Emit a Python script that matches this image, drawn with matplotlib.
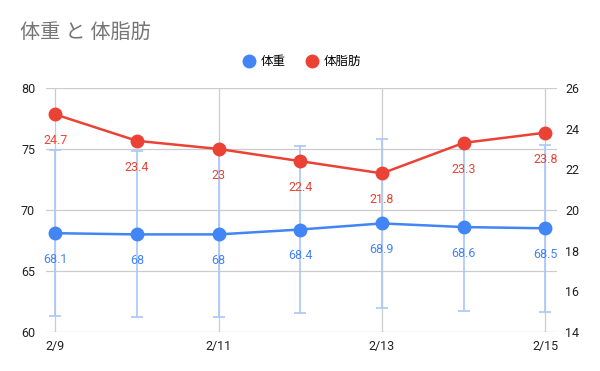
import numpy as np
import matplotlib
matplotlib.use("Agg")
import matplotlib.pyplot as plt
from matplotlib.lines import Line2D

plt.rcParams['font.family'] = ['Roboto', 'Noto Sans CJK JP', 'DejaVu Sans']

days = ['2/9', '2/10', '2/11', '2/12', '2/13', '2/14', '2/15']
weight = [68.1, 68.0, 68.0, 68.4, 68.9, 68.6, 68.5]
bodyfat = [24.7, 23.4, 23.0, 22.4, 21.8, 23.3, 23.8]
weight_label = ['68.1', '68', '68', '68.4', '68.9', '68.6', '68.5']
fat_label = ['24.7', '23.4', '23', '22.4', '21.8', '23.3', '23.8']

blue = '#4285F4'
red = '#EA4335'
grid_c = '#cccccc'

x = np.arange(len(days))
err = np.array(weight) * 0.10

fig = plt.figure(figsize=(6, 3.71), dpi=100)
ax = fig.add_axes([0.077, 0.105, 0.851, 0.658])
ax2 = ax.twinx()

# 体重 (左軸)
ax.errorbar(x, weight, yerr=err, fmt='none', ecolor='#a9c7fb', elinewidth=1.2,
            capsize=4, capthick=1.2, zorder=2)
ax.plot(x, weight, color=blue, lw=1.8, marker='o', ms=9, zorder=3)
for xi, v, s in zip(x, weight, weight_label):
    ax.annotate(s, (xi, v), xytext=(0, -19), textcoords='offset points',
                ha='center', va='center', color=blue, fontsize=9)

# 体脂肪 (右軸)
ax2.plot(x, bodyfat, color=red, lw=1.8, marker='o', ms=9, zorder=3)
for xi, v, s in zip(x, bodyfat, fat_label):
    ax2.annotate(s, (xi, v), xytext=(0, -19), textcoords='offset points',
                 ha='center', va='center', color=red, fontsize=9)

ax.set_xlim(-0.11, 6.14)
ax.set_ylim(60, 80)
ax2.set_ylim(14, 26)
ax.set_yticks([60, 65, 70, 75, 80])
ax2.set_yticks([14, 16, 18, 20, 22, 24, 26])
ax.set_xticks(x[::2])
ax.set_xticklabels(days[::2])

ax.grid(True, color=grid_c, lw=0.9)
ax.set_axisbelow(True)
for a in (ax, ax2):
    for sp in a.spines.values():
        sp.set_visible(False)
    a.tick_params(length=0, labelsize=9, colors='#222222')
ax.tick_params(axis='y', pad=8)
ax2.tick_params(axis='y', pad=6)
ax.tick_params(axis='x', pad=6)

fig.text(0.033, 0.913, '体重 と 体脂肪', fontsize=14.5, color='#757575',
         ha='left', va='center')

# 凡例
handles = [Line2D([], [], ls='none', marker='o', ms=9, color=blue, label='体重'),
           Line2D([], [], ls='none', marker='o', ms=9, color=red, label='体脂肪')]
fig.legend(handles=handles, loc='center', bbox_to_anchor=(0.503, 0.833), ncol=2,
           frameon=False, fontsize=9, handletextpad=0.45, columnspacing=1.6,
           handlelength=1.0)

fig.savefig('out.png', dpi=100)
